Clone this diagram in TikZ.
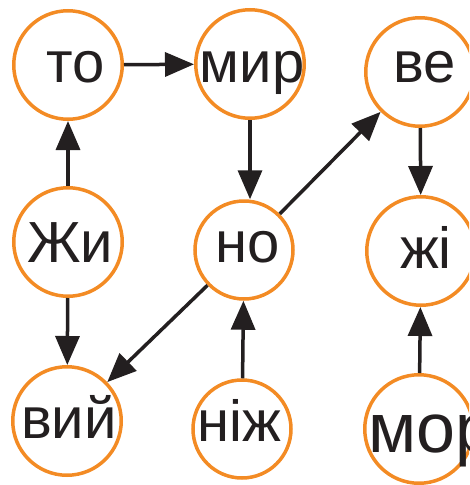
\documentclass[tikz,border=0pt]{standalone}
\usepackage{fontspec}
\setmainfont{Liberation Sans}
\usetikzlibrary{arrows.meta}
\definecolor{ring}{RGB}{243,139,36}
\definecolor{ink}{RGB}{35,31,32}
\begin{document}
\begin{tikzpicture}[x=1pt,y=-1pt,
  big/.style={circle,draw=ring,line width=3.5pt,minimum size=108.5pt,inner sep=0pt},
  small/.style={circle,draw=ring,line width=3.5pt,minimum size=98pt,inner sep=0pt},
  lbl/.style={inner sep=0pt,text height=0pt,text depth=0pt,text=ink,font=\fontsize{58}{58}\selectfont},
  edge/.style={draw=ink,line width=3.5pt,-{Triangle[length=29pt,width=24pt]}}]
\useasboundingbox (0,0) rectangle (469,485);
\clip (0,0) rectangle (469,485);
\node[big,label={[lbl,xshift=8pt,yshift=-17pt]center:то}] (to) at (68,65) {};
\node[big,label={[lbl,xshift=2pt,yshift=-18pt]center:мир}] (mir) at (250,64) {};
\node[big,label={[lbl,xshift=5pt,yshift=-10pt]center:ве}] (ve) at (420,72) {};
\node[big,label={[lbl,xshift=2pt,yshift=-20pt]center:Жи}] (zhy) at (68,242) {};
\node[small,label={[lbl,xshift=4pt,yshift=-12pt]center:но}] (no) at (244,250) {};
\node[big,label={[lbl,xshift=5pt,yshift=-17pt]center:жі}] (zhi) at (421,251) {};
\node[big,label={[lbl,xshift=2pt,yshift=-17pt]center:вий}] (vyi) at (67,421) {};
\node[small,label={[lbl,xshift=-3pt,yshift=-12pt]center:ніж}] (nizh) at (242,429) {};
\node[big,label={[lbl,font=\fontsize{70}{70}\selectfont,xshift=12pt,yshift=-23pt]center:мор}] (mor) at (419,429) {};
\draw[edge] (to) -- (mir);
\draw[edge] (mir.south) -- (mir.south |- no.north);
\draw[edge] (zhy) -- (to);
\draw[edge] (zhy) -- (vyi);
\draw[edge] (no) -- (ve);
\draw[edge] (no) -- (vyi);
\draw[edge] (nizh) -- (no);
\draw[edge] (ve) -- (zhi);
\draw[edge] (mor) -- (zhi);
\end{tikzpicture}
\end{document}
